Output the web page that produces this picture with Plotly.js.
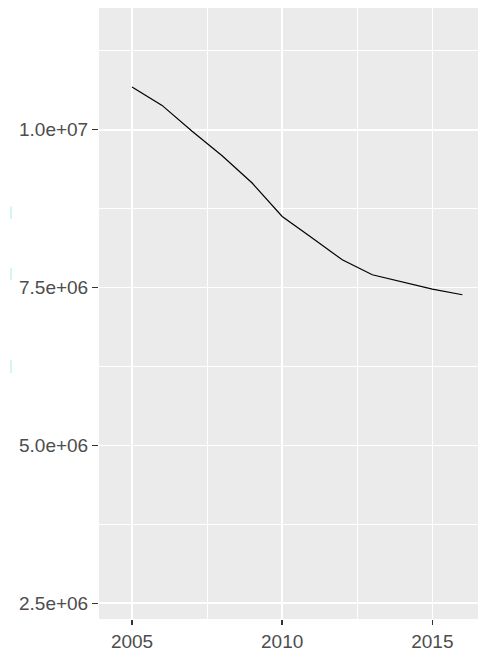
<!DOCTYPE html>
<html>
<head>
<meta charset="utf-8">
<script src="https://cdn.plot.ly/plotly-3.0.1.min.js"></script>
<style>html,body{margin:0;padding:0;background:#fff;}#chart{width:478px;height:654px;}</style>
</head>
<body>
<div id="chart"></div>
<script>
const years = [2005, 2006, 2007, 2008, 2009, 2010, 2011, 2012, 2013, 2014, 2015, 2016];
const values = [10676000, 10385000, 9975000, 9588000, 9156000, 8626000, 8284000, 7940000, 7703000, 7587000, 7476000, 7386000];
const xTickVals = [2005, 2010, 2015];
const xTickText = ['2005', '2010', '2015'];
const yTickVals = [2500000, 5000000, 7500000, 10000000];
const yTickText = ['2.5e+06', '5.0e+06', '7.5e+06', '1.0e+07'];

const tickFont = {family: 'Liberation Sans, Arial, sans-serif', size: 19, color: '#4D4D4D'};

function mark(y0, y1) {
  return {type: 'line', xref: 'paper', yref: 'paper', x0: -0.232, x1: -0.232, y0: y0, y1: y1,
          line: {color: '#C4F4F4', width: 1.5}};
}

const trace = {
  x: years, y: values, type: 'scatter', mode: 'lines',
  line: {color: '#000000', width: 1.2},
  hoverinfo: 'skip'
};

const layout = {
  width: 478, height: 654,
  margin: {l: 99, r: 0, t: 8, b: 35, pad: 0},
  paper_bgcolor: '#FFFFFF',
  plot_bgcolor: '#EBEBEB',
  showlegend: false,
  xaxis: {
    range: [2003.9, 2016.52],
    tickvals: xTickVals, ticktext: xTickText,
    showgrid: true, gridcolor: '#FFFFFF', gridwidth: 1.6,
    minor: {dtick: 2.5, tick0: 2002.5, showgrid: true, gridcolor: '#FFFFFF', gridwidth: 1.1, ticks: ''},
    zeroline: false, showline: false,
    ticks: 'outside', ticklen: 5, tickwidth: 1.4, tickcolor: '#333333',
    tickfont: tickFont
  },
  yaxis: {
    range: [2251000, 11928000],
    tickvals: yTickVals, ticktext: yTickText,
    showgrid: true, gridcolor: '#FFFFFF', gridwidth: 1.6,
    minor: {dtick: 1250000, tick0: 1250000, showgrid: true, gridcolor: '#FFFFFF', gridwidth: 1.1, ticks: ''},
    zeroline: false, showline: false,
    ticks: 'outside', ticklen: 6, tickwidth: 1.4, tickcolor: '#333333',
    tickfont: tickFont
  },
  shapes: [mark(0.6547, 0.675), mark(0.5548, 0.5745), mark(0.4026, 0.4239)]
};

Plotly.newPlot('chart', [trace], layout, {displayModeBar: false, staticPlot: true});
</script>
</body>
</html>
